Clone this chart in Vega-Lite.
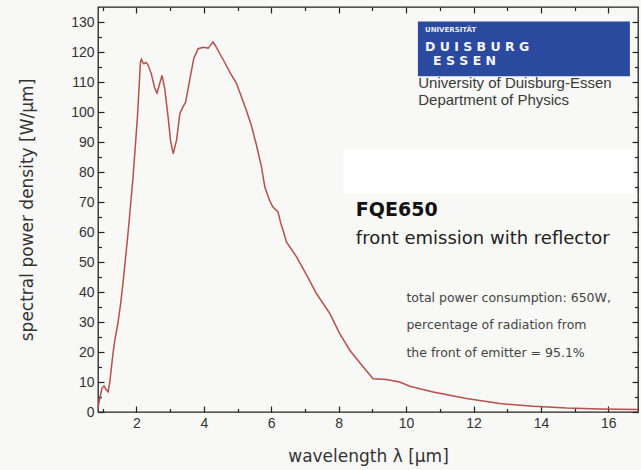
{
  "$schema": "https://vega.github.io/schema/vega-lite/v6.json",
  "width": 540,
  "height": 405,
  "autosize": {"type": "none"},
  "padding": {"left": 98, "top": 7, "right": 3, "bottom": 58},
  "background": "#f8f8f6",
  "config": {
    "view": {"stroke": "#222222", "strokeWidth": 1.3},
    "axis": {
      "grid": false,
      "domain": false,
      "tickColor": "#222222",
      "tickWidth": 1.2,
      "labelColor": "#333333",
      "labelFont": "Liberation Sans",
      "labelFontSize": 14,
      "titleFont": "DejaVu Sans",
      "titleFontSize": 17,
      "titleFontWeight": "normal",
      "titleColor": "#333333"
    }
  },
  "datasets": {
    "curve": [
      {"wl": 0.86, "p": 1.5}, {"wl": 0.92, "p": 5}, {"wl": 0.98, "p": 8}, {"wl": 1.04, "p": 8.7},
      {"wl": 1.10, "p": 7.5}, {"wl": 1.16, "p": 6.7}, {"wl": 1.21, "p": 10}, {"wl": 1.26, "p": 15},
      {"wl": 1.31, "p": 20}, {"wl": 1.36, "p": 24}, {"wl": 1.45, "p": 29.5}, {"wl": 1.53, "p": 36},
      {"wl": 1.60, "p": 42.8}, {"wl": 1.75, "p": 59.5}, {"wl": 1.90, "p": 78.3}, {"wl": 2.03, "p": 98.3},
      {"wl": 2.12, "p": 116.7}, {"wl": 2.15, "p": 117.6}, {"wl": 2.19, "p": 116.5}, {"wl": 2.22, "p": 116.1},
      {"wl": 2.28, "p": 116.5}, {"wl": 2.34, "p": 115.8}, {"wl": 2.44, "p": 112.8}, {"wl": 2.54, "p": 108.1},
      {"wl": 2.61, "p": 106.3}, {"wl": 2.69, "p": 109.5}, {"wl": 2.76, "p": 112.2}, {"wl": 2.84, "p": 107.8},
      {"wl": 2.94, "p": 98.3}, {"wl": 3.01, "p": 90.6}, {"wl": 3.09, "p": 86.1}, {"wl": 3.19, "p": 90.6},
      {"wl": 3.29, "p": 99.5}, {"wl": 3.38, "p": 101.7}, {"wl": 3.46, "p": 103.3}, {"wl": 3.58, "p": 110.6},
      {"wl": 3.70, "p": 117.8}, {"wl": 3.83, "p": 121.1}, {"wl": 3.98, "p": 121.6}, {"wl": 4.13, "p": 121.3},
      {"wl": 4.20, "p": 122.3}, {"wl": 4.27, "p": 123.3}, {"wl": 4.35, "p": 122}, {"wl": 4.47, "p": 119.5},
      {"wl": 4.62, "p": 116.5}, {"wl": 4.77, "p": 113.3}, {"wl": 4.97, "p": 109.5}, {"wl": 5.10, "p": 105.5},
      {"wl": 5.26, "p": 100.6}, {"wl": 5.41, "p": 95.5}, {"wl": 5.56, "p": 89}, {"wl": 5.71, "p": 81.7},
      {"wl": 5.81, "p": 75}, {"wl": 5.95, "p": 70.5}, {"wl": 6.05, "p": 68.3}, {"wl": 6.20, "p": 66.7},
      {"wl": 6.28, "p": 63}, {"wl": 6.35, "p": 60.6}, {"wl": 6.45, "p": 56.7}, {"wl": 6.75, "p": 51.7},
      {"wl": 7.05, "p": 45.6}, {"wl": 7.34, "p": 39.5}, {"wl": 7.74, "p": 32.8}, {"wl": 8.03, "p": 26.1},
      {"wl": 8.33, "p": 20.6}, {"wl": 8.73, "p": 15.0}, {"wl": 9.02, "p": 11.1}, {"wl": 9.42, "p": 10.8},
      {"wl": 9.81, "p": 10.0}, {"wl": 10.11, "p": 8.6}, {"wl": 10.80, "p": 6.7}, {"wl": 11.79, "p": 4.5},
      {"wl": 12.78, "p": 2.8}, {"wl": 13.77, "p": 1.9}, {"wl": 14.76, "p": 1.3}, {"wl": 15.75, "p": 1.0},
      {"wl": 16.88, "p": 0.8}
    ],
    "boxes": [
      {"role": "strip", "x1": 8.15, "x2": 16.75, "y1": 72.9, "y2": 87.2},
      {"role": "logo", "x1": 10.35, "x2": 16.64, "y1": 111.9, "y2": 130.2}
    ],
    "notes": [
      {"role": "big", "text": "FQE650", "wl": 8.51, "p": 67.2},
      {"role": "sub", "text": "front emission with reflector", "wl": 8.51, "p": 57.8},
      {"role": "small", "text": "total power consumption: 650W,", "wl": 10.01, "p": 38.1},
      {"role": "small", "text": "percentage of radiation from", "wl": 10.01, "p": 28.9},
      {"role": "small", "text": "the front of emitter = 95.1%", "wl": 10.01, "p": 19.7},
      {"role": "uni", "text": "University of Duisburg-Essen", "wl": 10.36, "p": 109.7},
      {"role": "uni", "text": "Department of Physics", "wl": 10.36, "p": 104.1},
      {"role": "tiny", "text": "UNIVERSITÄT", "wl": 10.56, "p": 127.2},
      {"role": "logoA", "text": "D U I S B U R G", "wl": 10.56, "p": 121.7},
      {"role": "logoB", "text": "E S S E N", "wl": 10.80, "p": 116.9}
    ]
  },
  "layer": [
    {
      "data": {"name": "boxes"},
      "transform": [{"filter": "datum.role === 'strip'"}],
      "mark": {"type": "rect", "fill": "#ffffff"},
      "encoding": {
        "x": {"field": "x1", "type": "quantitative", "scale": {"domain": [0.86, 16.88], "nice": false, "zero": false}, "axis": null},
        "x2": {"field": "x2"},
        "y": {"field": "y1", "type": "quantitative", "scale": {"domain": [0, 135], "nice": false}, "axis": null},
        "y2": {"field": "y2"}
      }
    },
    {
      "data": {"name": "boxes"},
      "transform": [{"filter": "datum.role === 'logo'"}],
      "mark": {"type": "rect", "fill": "#2b4a9f"},
      "encoding": {
        "x": {"field": "x1", "type": "quantitative", "axis": null},
        "x2": {"field": "x2"},
        "y": {"field": "y1", "type": "quantitative", "axis": null},
        "y2": {"field": "y2"}
      }
    },
    {
      "data": {"name": "curve"},
      "mark": {"type": "line", "color": "#b5504a", "strokeWidth": 1.5},
      "encoding": {
        "x": {"field": "wl", "type": "quantitative", "scale": {"domain": [0.86, 16.88], "nice": false, "zero": false},
          "axis": {"orient": "bottom", "values": [2, 4, 6, 8, 10, 12, 14, 16], "tickSize": -6, "labelPadding": 10,
            "title": "wavelength λ [µm]", "titleY": 44, "titleBaseline": "middle"}},
        "y": {"field": "p", "type": "quantitative", "scale": {"domain": [0, 135], "nice": false},
          "axis": {"orient": "left", "values": [0, 10, 20, 30, 40, 50, 60, 70, 80, 90, 100, 110, 120, 130], "tickSize": -6, "labelPadding": 10,
            "title": "spectral power density [W/µm]", "titleX": -71, "titleBaseline": "middle"}}
      }
    },
    {
      "data": {"name": "curve"},
      "mark": {"type": "line", "strokeOpacity": 0},
      "encoding": {
        "x": {"field": "wl", "type": "quantitative",
          "axis": {"orient": "bottom", "values": [1, 3, 5, 7, 9, 11, 13, 15], "tickSize": -3.5, "labels": false, "title": null}},
        "y": {"field": "p", "type": "quantitative",
          "axis": {"orient": "left", "values": [5, 15, 25, 35, 45, 55, 65, 75, 85, 95, 105, 115, 125], "tickSize": -3.5, "labels": false, "title": null}}
      }
    },
    {
      "data": {"name": "curve"},
      "mark": {"type": "line", "strokeOpacity": 0},
      "encoding": {
        "x": {"field": "wl", "type": "quantitative",
          "axis": {"orient": "top", "values": [2, 4, 6, 8, 10, 12, 14, 16], "tickSize": -6, "labels": false, "title": null}},
        "y": {"field": "p", "type": "quantitative",
          "axis": {"orient": "right", "values": [0, 10, 20, 30, 40, 50, 60, 70, 80, 90, 100, 110, 120, 130], "tickSize": -6, "labels": false, "title": null}}
      }
    },
    {
      "data": {"name": "curve"},
      "mark": {"type": "line", "strokeOpacity": 0},
      "encoding": {
        "x": {"field": "wl", "type": "quantitative",
          "axis": {"orient": "top", "values": [1, 3, 5, 7, 9, 11, 13, 15], "tickSize": -3.5, "labels": false, "title": null}},
        "y": {"field": "p", "type": "quantitative",
          "axis": {"orient": "right", "values": [5, 15, 25, 35, 45, 55, 65, 75, 85, 95, 105, 115, 125], "tickSize": -3.5, "labels": false, "title": null}}
      }
    },
    {
      "data": {"name": "notes"},
      "transform": [{"filter": "datum.role === 'big'"}],
      "mark": {"type": "text", "align": "left", "baseline": "middle", "font": "DejaVu Sans", "fontWeight": "bold", "fontSize": 19, "color": "#111111"},
      "encoding": {
        "x": {"field": "wl", "type": "quantitative", "axis": null},
        "y": {"field": "p", "type": "quantitative", "axis": null},
        "text": {"field": "text"}
      }
    },
    {
      "data": {"name": "notes"},
      "transform": [{"filter": "datum.role === 'sub'"}],
      "mark": {"type": "text", "align": "left", "baseline": "middle", "font": "DejaVu Sans", "fontSize": 18, "color": "#222222"},
      "encoding": {
        "x": {"field": "wl", "type": "quantitative", "axis": null},
        "y": {"field": "p", "type": "quantitative", "axis": null},
        "text": {"field": "text"}
      }
    },
    {
      "data": {"name": "notes"},
      "transform": [{"filter": "datum.role === 'small'"}],
      "mark": {"type": "text", "align": "left", "baseline": "middle", "font": "DejaVu Sans", "fontSize": 12.5, "color": "#444444"},
      "encoding": {
        "x": {"field": "wl", "type": "quantitative", "axis": null},
        "y": {"field": "p", "type": "quantitative", "axis": null},
        "text": {"field": "text"}
      }
    },
    {
      "data": {"name": "notes"},
      "transform": [{"filter": "datum.role === 'uni'"}],
      "mark": {"type": "text", "align": "left", "baseline": "middle", "font": "Liberation Sans", "fontSize": 15, "color": "#3a3a3a"},
      "encoding": {
        "x": {"field": "wl", "type": "quantitative", "axis": null},
        "y": {"field": "p", "type": "quantitative", "axis": null},
        "text": {"field": "text"}
      }
    },
    {
      "data": {"name": "notes"},
      "transform": [{"filter": "datum.role === 'tiny'"}],
      "mark": {"type": "text", "align": "left", "baseline": "middle", "font": "DejaVu Sans", "fontWeight": "bold", "fontSize": 7, "color": "#e8ecf6"},
      "encoding": {
        "x": {"field": "wl", "type": "quantitative", "axis": null},
        "y": {"field": "p", "type": "quantitative", "axis": null},
        "text": {"field": "text"}
      }
    },
    {
      "data": {"name": "notes"},
      "transform": [{"filter": "datum.role === 'logoA' || datum.role === 'logoB'"}],
      "mark": {"type": "text", "align": "left", "baseline": "middle", "font": "DejaVu Sans", "fontWeight": "bold", "fontSize": 12.5, "color": "#f4f6fb"},
      "encoding": {
        "x": {"field": "wl", "type": "quantitative", "axis": null},
        "y": {"field": "p", "type": "quantitative", "axis": null},
        "text": {"field": "text"}
      }
    }
  ],
  "resolve": {"axis": {"x": "independent", "y": "independent"}}
}
